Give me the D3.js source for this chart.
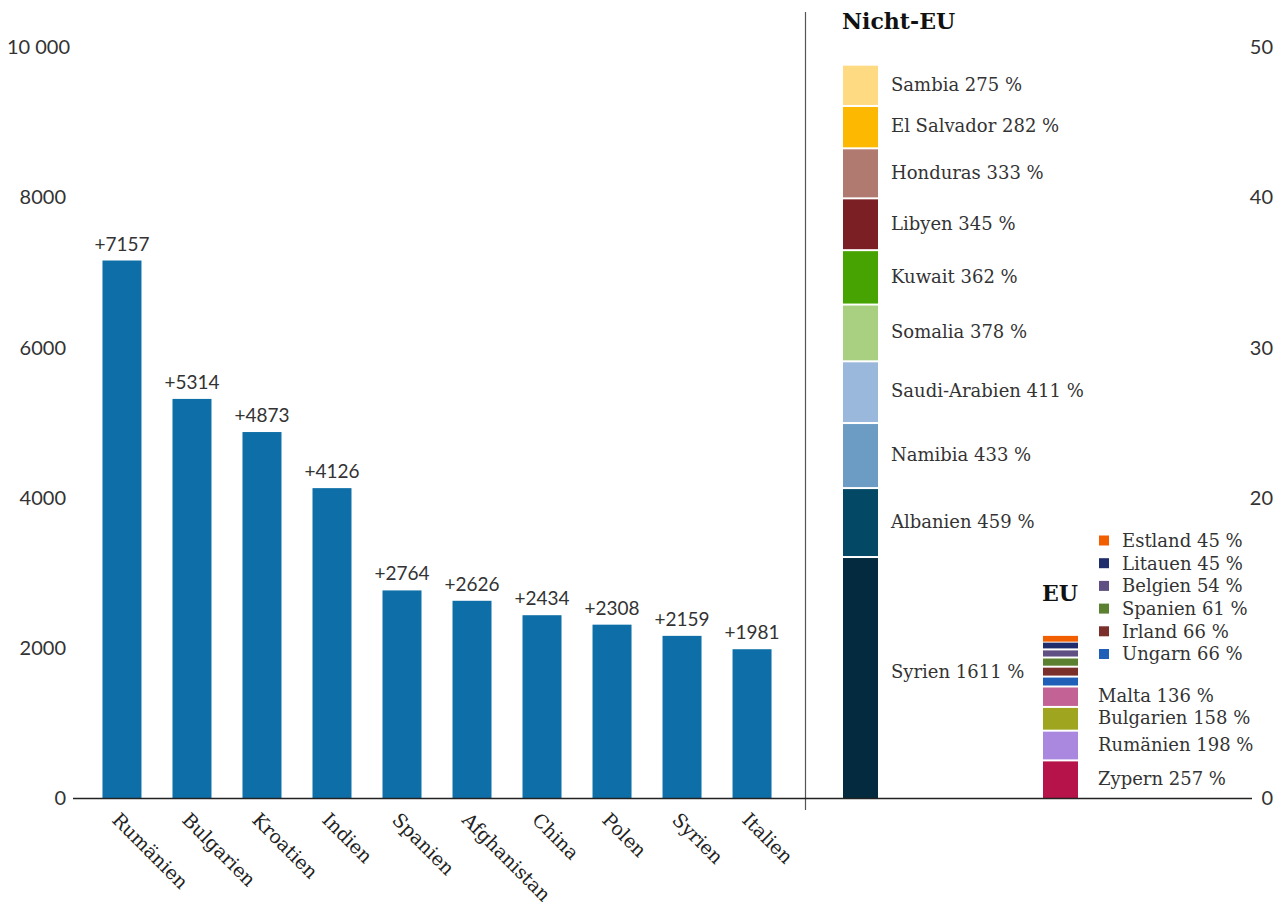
<!DOCTYPE html>
<html>
<head>
<meta charset="utf-8">
<script src="https://cdn.jsdelivr.net/npm/d3@7"></script>
<style>
  html, body { margin: 0; padding: 0; background: #fff; }
  svg { display: block; }
  .tick-label { font-family: Lato, "Open Sans", sans-serif; font-size: 20px; fill: #333; }
  .value-label { font-family: Lato, "Open Sans", sans-serif; font-size: 19px; fill: #333; }
  .slab { font-family: "DejaVu Serif", serif; font-size: 18px; fill: #333; }
  .cat { font-family: "DejaVu Serif", serif; font-size: 19px; fill: #222; }
  .title { font-family: "DejaVu Serif", serif; font-size: 22px; font-weight: bold; fill: #111; }
</style>
</head>
<body>
<svg id="chart" width="1276" height="904"></svg>
<script>
// Absolute increase by country of origin
const countries = ["Rumänien", "Bulgarien", "Kroatien", "Indien", "Spanien",
                   "Afghanistan", "China", "Polen", "Syrien", "Italien"];
const increase = [7157, 5314, 4873, 4126, 2764, 2626, 2434, 2308, 2159, 1981];
const leftTicks = [0, 2000, 4000, 6000, 8000, 10000];

// Relative increase (percent), stacked from bottom to top
const nonEuCountries = ["Syrien", "Albanien", "Namibia", "Saudi-Arabien", "Somalia",
                        "Kuwait", "Libyen", "Honduras", "El Salvador", "Sambia"];
const nonEuPct = [1611, 459, 433, 411, 378, 362, 345, 333, 282, 275];
const nonEuColors = ["#032a3e", "#034865", "#6c9bc4", "#9ab8db", "#a9d080",
                     "#47a301", "#7b1f24", "#b07a70", "#fdb902", "#fedb82"];

const euCountries = ["Zypern", "Rumänien", "Bulgarien", "Malta", "Ungarn",
                     "Irland", "Spanien", "Belgien", "Litauen", "Estland"];
const euPct = [257, 198, 158, 136, 66, 66, 61, 54, 45, 45];
const euColors = ["#b6134b", "#ab88e0", "#9fa51f", "#c36294", "#1f5fb8",
                  "#7b2f2a", "#5b8030", "#5f4f82", "#1f2d6d", "#f25f00"];
const rightTicks = [0, 20, 30, 40, 50];

const svg = d3.select("#chart");
const baseY = 798;
const topY = 47;

// Scales
const x = d3.scaleBand().domain(countries).range([73, 801])
  .paddingInner(0.443).paddingOuter(0.421);
const yLeft = d3.scaleLinear().domain([0, 10000]).range([baseY, topY]);
const yRight = d3.scaleLinear().domain([0, 50]).range([baseY, topY]);

const fmtLeft = d => d >= 10000 ? d3.format(",")(d).replace(",", " ") : String(d);

// Left axis labels
svg.append("g").selectAll("text").data(leftTicks).join("text")
  .attr("class", "tick-label")
  .attr("x", d => d >= 10000 ? 70 : 66)
  .attr("y", d => yLeft(d))
  .attr("dy", "0.36em")
  .attr("text-anchor", "end")
  .text(fmtLeft);

// Right axis labels
svg.append("g").selectAll("text").data(rightTicks).join("text")
  .attr("class", "tick-label")
  .attr("x", 1273)
  .attr("y", d => yRight(d))
  .attr("dy", "0.36em")
  .attr("text-anchor", "end")
  .text(d => d);

// Bars
svg.append("g").selectAll("rect").data(increase).join("rect")
  .attr("x", (d, i) => x(countries[i]))
  .attr("y", d => yLeft(d))
  .attr("width", x.bandwidth())
  .attr("height", d => baseY - yLeft(d))
  .attr("fill", "#0e6fa8");

// Value labels
svg.append("g").selectAll("text").data(increase).join("text")
  .attr("class", "value-label")
  .attr("x", (d, i) => x(countries[i]) + x.bandwidth() / 2)
  .attr("y", d => yLeft(d) - 10)
  .attr("text-anchor", "middle")
  .text(d => "+" + d);

// Category labels, rotated
svg.append("g").selectAll("text").data(countries).join("text")
  .attr("class", "cat")
  .attr("transform", d => `translate(${x(d) + x.bandwidth() / 2 - 11},${baseY + 23}) rotate(45)`)
  .attr("text-anchor", "start")
  .text(d => d);

// Divider between the two panels
svg.append("line")
  .attr("x1", 805.5).attr("x2", 805.5)
  .attr("y1", 12).attr("y2", 810)
  .attr("stroke", "#555").attr("stroke-width", 1.2);

// Stacked column helper
function stack(pcts) {
  let acc = 0;
  return pcts.map(p => {
    const v0 = acc;
    acc += p / 100;
    return { v0, v1: acc, p };
  });
}

const nonEu = stack(nonEuPct).map((s, i) => ({ ...s, name: nonEuCountries[i], color: nonEuColors[i] }));
const eu = stack(euPct).map((s, i) => ({ ...s, name: euCountries[i], color: euColors[i] }));

const nonEuX = 843, euX = 1043, colW = 35, gap = 2;

function drawStack(data, x0) {
  svg.append("g").selectAll("rect").data(data).join("rect")
    .attr("x", x0)
    .attr("y", d => yRight(d.v1) + (d.v1 - d.v0 > 0.5 ? gap : 1))
    .attr("width", colW)
    .attr("height", d => Math.max(1, yRight(d.v0) - yRight(d.v1) - (d.v1 - d.v0 > 0.5 ? gap : 1)))
    .attr("fill", d => d.color);
}

drawStack(nonEu, nonEuX);
drawStack(eu, euX);

// Inline labels for the non-EU column
svg.append("g").selectAll("text").data(nonEu).join("text")
  .attr("class", "slab")
  .attr("x", 891)
  .attr("y", d => (yRight(d.v0) + yRight(d.v1)) / 2 + (d.p > 1000 ? -5 : 0))
  .attr("dy", "0.35em")
  .text(d => `${d.name} ${d.p} %`);

// Inline labels for the larger EU segments
const euBig = eu.filter(d => d.p >= 100);
const euSmall = eu.filter(d => d.p < 100).reverse();

svg.append("g").selectAll("text").data(euBig).join("text")
  .attr("class", "slab")
  .attr("x", 1098)
  .attr("y", d => (yRight(d.v0) + yRight(d.v1)) / 2)
  .attr("dy", "0.35em")
  .text(d => `${d.name} ${d.p} %`);

// Legend for the thin EU segments
const legendTop = 540.5, legendStep = 22.7;
const legend = svg.append("g").selectAll("g").data(euSmall).join("g")
  .attr("transform", (d, i) => `translate(1099,${legendTop + i * legendStep})`);
legend.append("rect")
  .attr("x", 0).attr("y", -5).attr("width", 10).attr("height", 10)
  .attr("fill", d => d.color);
legend.append("text")
  .attr("class", "slab")
  .attr("x", 23).attr("y", 0).attr("dy", "0.35em")
  .text(d => `${d.name} ${d.p} %`);

// Titles
svg.append("text").attr("class", "title").attr("x", 842).attr("y", 29).text("Nicht-EU");
svg.append("text").attr("class", "title").attr("x", 1042).attr("y", 601).text("EU");

// Baseline
svg.append("line")
  .attr("x1", 73).attr("x2", 1252)
  .attr("y1", baseY + 0.5).attr("y2", baseY + 0.5)
  .attr("stroke", "#222").attr("stroke-width", 1.5);
</script>
</body>
</html>
